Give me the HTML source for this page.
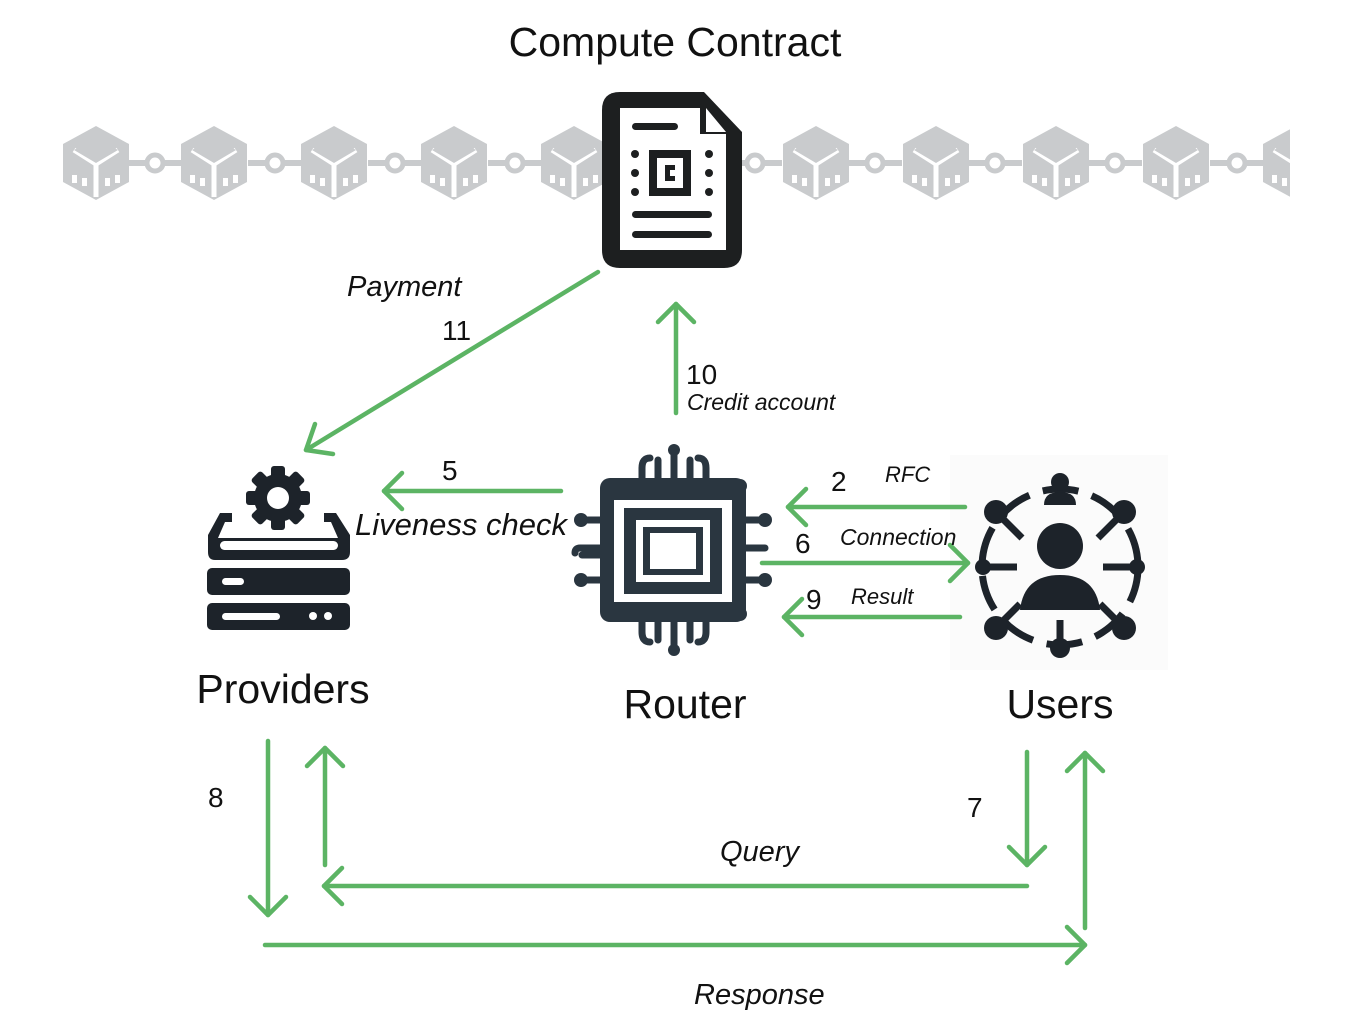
<!DOCTYPE html>
<html><head><meta charset="utf-8"><style>
html,body{margin:0;padding:0;background:#fff;}
svg{display:block;}
text{font-family:"Liberation Sans","DejaVu Sans",sans-serif;fill:#111;}
.it{font-style:italic;}
</style></head><body>
<svg width="1350" height="1030" viewBox="0 0 1350 1030" xmlns="http://www.w3.org/2000/svg">
<defs>
<g id="cube">
  <polygon points="0,-37 33,-19 33,19 0,37 -33,19 -33,-19" fill="#c9cbcd"/>
  <polyline points="-22,-13 0,1 22,-13" fill="none" stroke="#fff" stroke-width="5"/>
  <line x1="0" y1="1" x2="0" y2="34" stroke="#fff" stroke-width="5"/>
  <polygon points="-22,-13 0,-26 22,-13 0,0" fill="#c9cbcd"/>
  <rect x="-24" y="12" width="5" height="8" fill="#fff"/>
  <rect x="-14" y="15" width="5" height="8" fill="#fff"/>
  <rect x="9" y="15" width="5" height="8" fill="#fff"/>
  <rect x="19" y="12" width="5" height="8" fill="#fff"/>
</g>
<g id="link">
  <line x1="-27" y1="0" x2="27" y2="0" stroke="#c9cbcd" stroke-width="6"/>
  <circle cx="0" cy="0" r="8" fill="#fff" stroke="#c9cbcd" stroke-width="5"/>
</g>
</defs>

<text x="675" y="56" font-size="41" text-anchor="middle">Compute Contract</text>

<g>
  <use href="#link" x="155" y="163"/><use href="#link" x="275" y="163"/><use href="#link" x="395" y="163"/><use href="#link" x="515" y="163"/>
  <use href="#link" x="755" y="163"/><use href="#link" x="875" y="163"/><use href="#link" x="995" y="163"/><use href="#link" x="1115" y="163"/><use href="#link" x="1237" y="163"/>
  <use href="#cube" x="96" y="163"/><use href="#cube" x="214" y="163"/><use href="#cube" x="334" y="163"/><use href="#cube" x="454" y="163"/><use href="#cube" x="574" y="163"/>
  <use href="#cube" x="816" y="163"/><use href="#cube" x="936" y="163"/><use href="#cube" x="1056" y="163"/><use href="#cube" x="1176" y="163"/><use href="#cube" x="1296" y="163"/>
  <rect x="1290" y="100" width="60" height="130" fill="#fff"/>
</g>

<g>
  <path d="M620,92 H704 L742,132 V250 Q742,268 724,268 H620 Q602,268 602,250 V110 Q602,92 620,92 Z" fill="#1d1f20"/>
  <path d="M620,108 H700 V134 H726 V250 H620 Z" fill="#fff"/>
  <path d="M706,108 L726,132 H706 Z" fill="#fff"/>
  <rect x="632" y="123" width="46" height="7" rx="3.5" fill="#1d1f20"/>
  <rect x="649" y="150" width="42" height="46" fill="#1d1f20"/>
  <rect x="657" y="158" width="26" height="30" fill="#fff"/>
  <rect x="665" y="165" width="10" height="16" fill="#1d1f20"/>
  <rect x="670" y="170" width="5" height="6" fill="#fff"/>
  <circle cx="635" cy="154" r="4" fill="#1d1f20"/><circle cx="635" cy="173" r="4" fill="#1d1f20"/><circle cx="635" cy="192" r="4" fill="#1d1f20"/>
  <circle cx="709" cy="154" r="4" fill="#1d1f20"/><circle cx="709" cy="173" r="4" fill="#1d1f20"/><circle cx="709" cy="192" r="4" fill="#1d1f20"/>
  <rect x="632" y="211" width="80" height="7" rx="3.5" fill="#1d1f20"/>
  <rect x="632" y="231" width="80" height="7" rx="3.5" fill="#1d1f20"/>
</g>

<g fill="#1d232a">
  <g transform="translate(278,498)">
    <rect x="-7" y="-32" width="14" height="64" rx="3"/>
    <rect x="-7" y="-32" width="14" height="64" rx="3" transform="rotate(45)"/>
    <rect x="-7" y="-32" width="14" height="64" rx="3" transform="rotate(90)"/>
    <rect x="-7" y="-32" width="14" height="64" rx="3" transform="rotate(135)"/>
    <circle r="24"/>
    <circle r="11" fill="#fff"/>
  </g>
  <path d="M208,535 L220,513 H232 V522 H225 L218,538 H338 L331,522 H324 V513 H336 L350,535 V552 Q350,560 342,560 H215 Q208,560 208,552 Z"/>
  <rect x="220" y="541" width="118" height="9" rx="4.5" fill="#fff"/>
  <rect x="207" y="568" width="143" height="27" rx="5"/>
  <rect x="222" y="578" width="22" height="7" rx="3.5" fill="#fff"/>
  <rect x="207" y="603" width="143" height="27" rx="5"/>
  <rect x="222" y="613" width="58" height="7" rx="3.5" fill="#fff"/>
  <circle cx="313" cy="616" r="4" fill="#fff"/><circle cx="328" cy="616" r="4" fill="#fff"/>
</g>
<text x="283" y="703" font-size="41" text-anchor="middle">Providers</text>

<g fill="#2a3640" stroke="#2a3640">
  <g stroke-width="7" fill="none" stroke-linecap="round">
    <path d="M642,480 V468 Q642,458 650,458"/>
    <path d="M658,480 V460"/>
    <path d="M674,480 V452"/>
    <path d="M690,480 V460"/>
    <path d="M706,480 V468 Q706,458 698,458"/>
    <path d="M642,620 V632 Q642,642 650,642"/>
    <path d="M658,620 V640"/>
    <path d="M674,620 V648"/>
    <path d="M690,620 V640"/>
    <path d="M706,620 V632 Q706,642 698,642"/>
    <path d="M600,520 H582"/><path d="M600,548 H580 Q575,548 575,553"/><path d="M600,555 H582"/><path d="M600,580 H582"/>
    <path d="M745,520 H762"/><path d="M745,548 H765"/><path d="M745,580 H762"/>
  </g>
  <circle cx="608" cy="486" r="7" stroke="none"/><circle cx="740" cy="486" r="7" stroke="none"/>
  <circle cx="608" cy="614" r="7" stroke="none"/><circle cx="740" cy="614" r="7" stroke="none"/>
  <circle cx="581" cy="520" r="7" stroke="none"/><circle cx="581" cy="580" r="7" stroke="none"/>
  <circle cx="765" cy="520" r="7" stroke="none"/><circle cx="765" cy="580" r="7" stroke="none"/>
  <circle cx="674" cy="450" r="6" stroke="none"/><circle cx="674" cy="650" r="6" stroke="none"/>
  <rect x="600" y="478" width="146" height="144" rx="10" stroke="none"/>
  <rect x="614" y="500" width="118" height="102" fill="#fff" stroke="none"/>
  <rect x="624" y="508" width="98" height="86" stroke="none"/>
  <rect x="636" y="520" width="74" height="62" fill="#fff" stroke="none"/>
  <rect x="643" y="527" width="60" height="48" stroke="none"/>
  <rect x="650" y="533" width="46" height="36" fill="#fff" stroke="none"/>
</g>
<text x="685" y="718" font-size="41" text-anchor="middle">Router</text>

<rect x="950" y="455" width="218" height="215" fill="#fbfbfb"/>
<g fill="#1d232a" stroke="#1d232a">
  <g fill="none" stroke-width="7">
    <circle cx="1060" cy="567" r="78" stroke-dasharray="36 14"/>
    <line x1="996" y1="512" x2="1022" y2="538"/>
    <line x1="1124" y1="512" x2="1098" y2="538"/>
    <line x1="996" y1="628" x2="1020" y2="604"/>
    <line x1="1124" y1="628" x2="1100" y2="604"/>
    <line x1="985" y1="567" x2="1017" y2="567"/>
    <line x1="1135" y1="567" x2="1103" y2="567"/>
    <line x1="1060" y1="648" x2="1060" y2="620"/>
  </g>
  <circle cx="996" cy="512" r="12" stroke="none"/><circle cx="1124" cy="512" r="12" stroke="none"/>
  <circle cx="996" cy="628" r="12" stroke="none"/><circle cx="1124" cy="628" r="12" stroke="none"/>
  <circle cx="983" cy="567" r="8" stroke="none"/><circle cx="1137" cy="567" r="8" stroke="none"/>
  <circle cx="1060" cy="648" r="10" stroke="none"/>
  <circle cx="1060" cy="482" r="9" stroke="none"/>
  <path d="M1044,505 Q1044,492 1060,492 Q1076,492 1076,505 Z" stroke="none"/>
  <circle cx="1060" cy="546" r="23" stroke="none"/>
  <path d="M1020,610 Q1024,575 1060,575 Q1096,575 1100,610 Z" stroke="none"/>
</g>
<text x="1060" y="718" font-size="41" text-anchor="middle">Users</text>

<g stroke="#5cb464" stroke-width="4.5" fill="none" stroke-linecap="round" stroke-linejoin="round">
  <line x1="598" y1="272" x2="306" y2="450"/><polyline points="315,424 306,450 333,454"/>
  <line x1="676" y1="413" x2="676" y2="304"/><polyline points="658,322 676,304 694,322"/>
  <line x1="561" y1="491" x2="384" y2="491"/><polyline points="402,473 384,491 402,509"/>
  <line x1="965" y1="507" x2="788" y2="507"/><polyline points="806,489 788,507 806,525"/>
  <line x1="762" y1="563" x2="968" y2="563"/><polyline points="950,545 968,563 950,581"/>
  <line x1="960" y1="617" x2="784" y2="617"/><polyline points="802,599 784,617 802,635"/>
  <line x1="268" y1="741" x2="268" y2="915"/><polyline points="250,897 268,915 286,897"/>
  <line x1="325" y1="865" x2="325" y2="748"/><polyline points="307,766 325,748 343,766"/>
  <line x1="1027" y1="752" x2="1027" y2="865"/><polyline points="1009,847 1027,865 1045,847"/>
  <line x1="1027" y1="886" x2="324" y2="886"/><polyline points="342,868 324,886 342,904"/>
  <line x1="265" y1="945" x2="1085" y2="945"/><polyline points="1067,927 1085,945 1067,963"/>
  <line x1="1085" y1="928" x2="1085" y2="753"/><polyline points="1067,771 1085,753 1103,771"/>
</g>

<text x="347" y="296" font-size="29" class="it">Payment</text>
<text x="442" y="340" font-size="28">11</text>
<text x="686" y="384" font-size="28">10</text>
<text x="687" y="410" font-size="23" class="it">Credit account</text>
<text x="442" y="480" font-size="28">5</text>
<text x="355" y="535" font-size="31" class="it">Liveness check</text>
<text x="831" y="491" font-size="28">2</text>
<text x="885" y="482" font-size="22" class="it">RFC</text>
<text x="795" y="553" font-size="28">6</text>
<text x="840" y="545" font-size="23" class="it">Connection</text>
<text x="806" y="609" font-size="28">9</text>
<text x="851" y="604" font-size="22" class="it">Result</text>
<text x="208" y="807" font-size="28">8</text>
<text x="967" y="817" font-size="28">7</text>
<text x="720" y="861" font-size="29" class="it">Query</text>
<text x="694" y="1004" font-size="29" class="it">Response</text>
</svg>
</body></html>
